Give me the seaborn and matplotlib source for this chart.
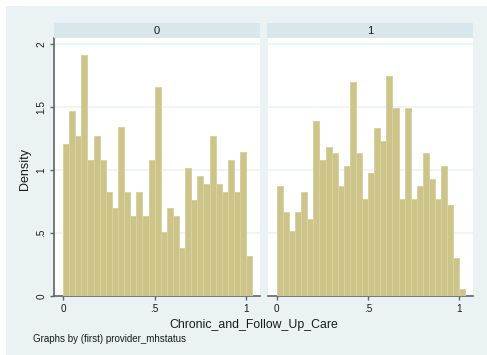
import numpy as np
import pandas as pd
import matplotlib
matplotlib.use("Agg")
import matplotlib.pyplot as plt
from matplotlib.patches import Rectangle
import seaborn as sns

# Histogram of Chronic_and_Follow_Up_Care by provider_mhstatus (density, bin width 1/30)
bin_start = 0.0
bin_width = 1 / 30
n_bins = 31

density_status0 = [1.21, 1.465, 1.27, 1.91, 1.08, 1.27, 1.08, 0.826, 0.70, 1.34,
                   0.826, 0.636, 0.826, 0.636, 1.08, 1.656, 0.511, 0.70, 0.636, 0.38,
                   1.02, 0.763, 0.954, 0.89, 1.27, 0.89, 0.826, 1.08, 0.826, 1.144,
                   0.316]
density_status1 = [0.87, 0.663, 0.515, 0.663, 0.822, 0.615, 1.387, 1.077, 1.18, 1.133,
                   0.87, 1.03, 1.698, 1.133, 0.767, 0.973, 1.332, 1.228, 1.745, 1.49,
                   0.767, 1.49, 0.767, 0.87, 1.133, 0.926, 0.767, 1.03, 0.719, 0.305,
                   0.053]
panel_labels = ["0", "1"]
y_ticks = [0, 0.5, 1, 1.5, 2]
y_ticklabels = ["0", ".5", "1", "1.5", "2"]
x_ticks = [0, 0.5, 1]
x_ticklabels = ["0", ".5", "1"]

edges = [bin_start + bin_width * k for k in range(n_bins + 1)]
centers = [(a + b) / 2 for a, b in zip(edges[:-1], edges[1:])]

W, H = 487, 355
fig = plt.figure(figsize=(W / 100, H / 100), dpi=100, facecolor="white")
plt.rcParams["font.family"] = ["Liberation Sans", "DejaVu Sans"]

BG = "#EAF2F3"
STRIP = "#D9E6EB"
BAR = "#CDC48A"
BAR_EDGE = "#D8D1A0"
AXIS = "#5E6468"
TXT = "#1A1A1A"

# outer graph region
fig.patches.append(Rectangle((6 / W, 0), 1, (H - 6) / H, transform=fig.transFigure,
                             facecolor=BG, edgecolor="none", zorder=-10))


def px_rect(x0, x1, y_top, y_bot):
    return [x0 / W, 1 - y_bot / H, (x1 - x0) / W, (y_bot - y_top) / H]


panels = [(54, 260), (268, 473)]
data = [density_status0, density_status1]

for i, ((x0, x1), dens) in enumerate(zip(panels, data)):
    ax = fig.add_axes(px_rect(x0, x1, 38, 296))
    ax.set_facecolor("white")
    df = pd.DataFrame({"x": centers, "w": dens})
    sns.histplot(data=df, x="x", weights="w", bins=edges, stat="count",
                 color=BAR, alpha=1, edgecolor=BAR_EDGE, linewidth=0.7, ax=ax, zorder=3)
    ax.set_xlim(-0.049, 1.075)
    ax.set_ylim(0, 2.048)
    for gy in y_ticks[1:]:
        ax.axhline(gy, color=BG, lw=1.1, zorder=1)
    ax.set_xlabel("")
    ax.set_ylabel("")
    ax.set_xticks(x_ticks)
    ax.set_xticklabels(x_ticklabels, fontsize=7.2, color=TXT)
    for s in ["top", "right"]:
        ax.spines[s].set_visible(False)
    ax.spines["bottom"].set_color(AXIS)
    ax.spines["bottom"].set_linewidth(1.2)
    ax.tick_params(axis="x", length=3, width=1, color=AXIS, pad=2.5)
    if i == 0:
        ax.spines["left"].set_color(AXIS)
        ax.spines["left"].set_linewidth(1.2)
        ax.set_yticks(y_ticks)
        ax.set_yticklabels(y_ticklabels, fontsize=7.2, color=TXT, rotation=90, va="center")
        ax.tick_params(axis="y", length=3, width=1, color=AXIS, pad=2.5)
    else:
        ax.spines["left"].set_visible(False)
        ax.set_yticks([])

    # panel title strip
    sax = fig.add_axes(px_rect(x0 if i == 0 else x0 - 1, x1, 23, 38))
    sax.set_facecolor(STRIP)
    sax.set_xticks([])
    sax.set_yticks([])
    for s in sax.spines.values():
        s.set_visible(False)
    sax.text(0.5, 0.5, panel_labels[i], ha="center", va="center",
             fontsize=8, color=TXT, transform=sax.transAxes)

fig.text(24.5 / W, 1 - 169 / H, "Density", rotation=90, ha="center", va="center",
         fontsize=9, color=TXT)
fig.text(253.5 / W, 1 - 325 / H, "Chronic_and_Follow_Up_Care", ha="center", va="center",
         fontsize=8.8, color=TXT)
fig.text(33 / W, 1 - 339 / H, "Graphs by (first) provider_mhstatus", ha="left",
         va="center", fontsize=7, color=TXT)

fig.savefig("out.png", dpi=100, facecolor=fig.get_facecolor())
